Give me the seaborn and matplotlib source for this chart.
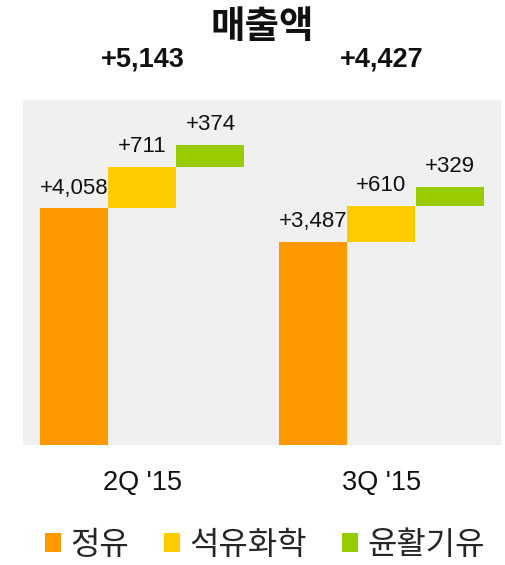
import matplotlib
matplotlib.use("Agg")
import matplotlib.pyplot as plt
from matplotlib import font_manager
from matplotlib.patches import Patch
import seaborn as sns
import pandas as pd

quarters = ["2Q '15", "3Q '15"]
segments = ["정유", "석유화학", "윤활기유"]
refining = [4058, 3487]
petrochem = [711, 610]
lube = [374, 329]
totals = [5143, 4427]
title = "매출액"

colors = ["#FF9900", "#FFCC00", "#99CC00"]
bg = "#F0F0F0"

sns.set_theme(style="white")
names = {f.name for f in font_manager.fontManager.ttflist}
latin = "Liberation Sans Narrow" if "Liberation Sans Narrow" in names else "Liberation Sans"
kr = "Noto Sans CJK KR"
plt.rcParams["font.family"] = [latin, kr, "DejaVu Sans"]

W, H = 506, 565
fig = plt.figure(figsize=(W / 100, H / 100), dpi=100)
ax = fig.add_axes([23 / W, (H - 445) / H, 478 / W, 345 / H])
ax.set_facecolor(bg)

w = 68 / 239
xpos = [0, 1]

df = pd.DataFrame({"x": [p - w for p in xpos], "v": refining})
sns.barplot(data=df, x="x", y="v", native_scale=True, width=w, color=colors[0],
            saturation=1, linewidth=0, ax=ax, errorbar=None)

bottom2 = [a for a in refining]
bottom3 = [a + b for a, b in zip(refining, petrochem)]
ax.bar(xpos, petrochem, bottom=bottom2, width=w, color=colors[1], linewidth=0)
ax.bar([p + w for p in xpos], lube, bottom=bottom3, width=w, color=colors[2], linewidth=0)

lab_fs = 16
for i, p in enumerate(xpos):
    tops = [refining[i], refining[i] + petrochem[i], refining[i] + petrochem[i] + lube[i]]
    vals = [refining[i], petrochem[i], lube[i]]
    for k, (t, v) in enumerate(zip(tops, vals)):
        ax.annotate(f"+{v:,}", xy=(p + (k - 1) * w, t), xytext=(0, 7), textcoords="offset points",
                    ha="center", va="bottom", fontsize=lab_fs, color="#111111")
    ax.text(p, 1.096, f"+{totals[i]:,}", transform=ax.get_xaxis_transform(), ha="center",
            va="baseline", fontsize=19.5, fontweight="bold", color="#111111")

ax.set_xlim(-0.5, 1.5)
ax.set_ylim(0, 5915)
ax.set_xticks(xpos)
ax.set_xticklabels(quarters, fontsize=19.5, color="#111111")
ax.tick_params(axis="x", length=0, pad=18)
ax.set_yticks([])
ax.set_xlabel("")
ax.set_ylabel("")
for s in ax.spines.values():
    s.set_visible(False)

ax.text(0.5, 1.18, title, transform=ax.transAxes, ha="center", va="baseline",
        fontsize=27, fontweight="bold", family=[kr], color="#111111")

handles = [Patch(facecolor=c, edgecolor="none") for c in colors]
fig.legend(handles, segments, loc="center", bbox_to_anchor=(265 / W, 1 - 545 / H), ncol=3,
           frameon=False, prop={"family": [kr], "size": 23}, handlelength=0.5, handleheight=0.55,
           handletextpad=0.3, columnspacing=1.1, borderpad=0)

fig.savefig("out.png", dpi=100, facecolor="white")
